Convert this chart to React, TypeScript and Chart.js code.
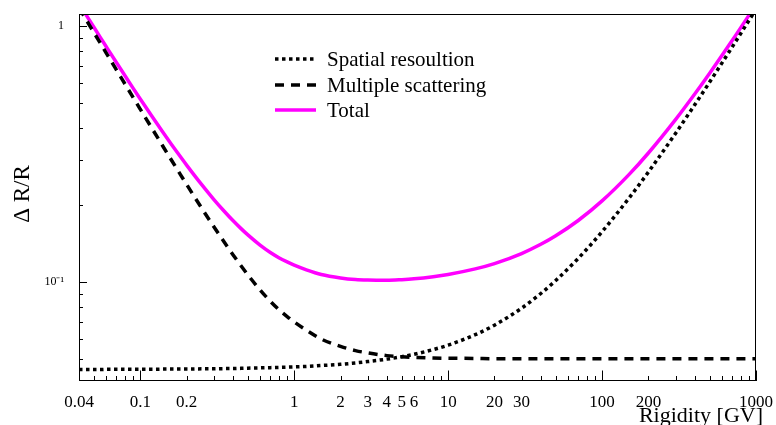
import React, { useEffect, useRef } from "react";
import { Chart, registerables } from "chart.js";
Chart.register(...registerables);

// Rigidity [GV]
const rigidity = [0.04, 0.042, 0.045, 0.05, 0.055, 0.06, 0.07, 0.08, 0.09, 0.1, 0.12, 0.14, 0.16, 0.18, 0.2, 0.25, 0.3, 0.35, 0.4, 0.45, 0.5, 0.6, 0.7, 0.8, 0.9, 1, 1.2, 1.5, 2, 2.5, 3, 4, 5, 6, 8, 10, 15, 20, 30, 40, 50, 70, 100, 150, 200, 300, 400, 500, 700, 1000];
// Spatial resolution term
const spatial = [0.0456, 0.0456, 0.0456, 0.0456, 0.0456, 0.0457, 0.0457, 0.0457, 0.0457, 0.0457, 0.0457, 0.0458, 0.0458, 0.0458, 0.0458, 0.0459, 0.0459, 0.046, 0.046, 0.0461, 0.0462, 0.0463, 0.0464, 0.0465, 0.0466, 0.0467, 0.0469, 0.0473, 0.0478, 0.0484, 0.049, 0.0501, 0.0512, 0.0523, 0.0546, 0.0568, 0.0624, 0.068, 0.0792, 0.0904, 0.1016, 0.124, 0.1576, 0.2136, 0.2696, 0.3816, 0.4936, 0.6056, 0.8296, 1.1656];
// Multiple scattering term
const multiple = [1.181, 1.125, 1.05, 0.945, 0.8594, 0.788, 0.676, 0.592, 0.5266, 0.4745, 0.3964, 0.3407, 0.2991, 0.2669, 0.2412, 0.1953, 0.1651, 0.1439, 0.1282, 0.1163, 0.1069, 0.0934, 0.0843, 0.078, 0.0735, 0.07, 0.065, 0.06, 0.0562, 0.0541, 0.053, 0.0517, 0.0512, 0.0509, 0.0506, 0.0505, 0.0504, 0.0503, 0.0503, 0.0503, 0.0503, 0.0503, 0.0503, 0.0503, 0.0503, 0.0503, 0.0503, 0.0503, 0.0503, 0.0503];
// Total
const total = [1.227, 1.171, 1.096, 0.991, 0.905, 0.834, 0.722, 0.638, 0.572, 0.52, 0.442, 0.3865, 0.3449, 0.3127, 0.287, 0.2412, 0.211, 0.1899, 0.1742, 0.1624, 0.1531, 0.1397, 0.1307, 0.1245, 0.1201, 0.1167, 0.1119, 0.1073, 0.104, 0.1025, 0.102, 0.1018, 0.1024, 0.1032, 0.1052, 0.1073, 0.1128, 0.1183, 0.1295, 0.1407, 0.1519, 0.1743, 0.2079, 0.2639, 0.3199, 0.4319, 0.5439, 0.6559, 0.8799, 1.2159];

const seriesLabels = ["Spatial resoultion", "Multiple scattering", "Total"];

const xLabelValues = [0.04, 0.1, 0.2, 1, 2, 3, 4, 5, 6, 10, 20, 30, 100, 200, 1000];
const xLabelTexts = ["0.04", "0.1", "0.2", "1", "2", "3", "4", "5", "6", "10", "20", "30", "100", "200", "1000"];
const yLabelValues = [0.1, 1];
const yLabelTexts = ["10\u207B\u00B9", "1"];

const X_MIN = 0.04;
const X_MAX = 1000;
const Y_MIN = 0.04115;
const Y_MAX = 1.117;

const SERIF = "'Liberation Serif', 'Times New Roman', serif";

function decadeTicks(min: number, max: number): number[] {
  const out: number[] = [];
  for (let e = Math.floor(Math.log10(min)); e <= Math.ceil(Math.log10(max)); e++) {
    for (let m = 1; m <= 9; m++) {
      const v = parseFloat((m * Math.pow(10, e)).toPrecision(6));
      if (v >= min * 0.9999 && v <= max * 1.0001) out.push(v);
    }
  }
  return out;
}

const isDecade = (v: number) => Math.abs(Math.log10(v) - Math.round(Math.log10(v))) < 1e-9;

const framePlugin = {
  id: "rootFrame",
  afterDatasetsDraw(chart: any) {
    const { ctx, chartArea: a, scales } = chart;
    const xs = scales.x;
    const ys = scales.y;
    ctx.save();
    ctx.setLineDash([]);
    ctx.strokeStyle = "#000";
    ctx.lineWidth = 1;
    ctx.strokeRect(a.left + 0.5, a.top + 0.5, a.right - a.left - 1, a.bottom - a.top - 1);

    // x ticks (inward)
    ctx.beginPath();
    for (const v of decadeTicks(X_MIN, X_MAX)) {
      const px = Math.round(xs.getPixelForValue(v)) + 0.5;
      const len = isDecade(v) ? 10.5 : 5;
      ctx.moveTo(px, a.bottom);
      ctx.lineTo(px, a.bottom - len);
    }
    // y ticks (inward)
    for (const v of decadeTicks(Y_MIN, Y_MAX)) {
      const py = Math.round(ys.getPixelForValue(v)) + 0.5;
      const len = isDecade(v) ? 8 : 4;
      ctx.moveTo(a.left, py);
      ctx.lineTo(a.left + len, py);
    }
    ctx.stroke();

    // legend
    const rows = [59, 85, 110];
    ctx.font = `21px ${SERIF}`;
    ctx.textBaseline = "middle";
    ctx.textAlign = "left";
    chart.data.datasets.forEach((ds: any, i: number) => {
      const y = rows[i];
      ctx.save();
      ctx.strokeStyle = ds.borderColor;
      ctx.lineWidth = ds.borderWidth;
      ctx.setLineDash(ds.borderDash || []);
      ctx.beginPath();
      ctx.moveTo(275, y);
      ctx.lineTo(316, y);
      ctx.stroke();
      ctx.restore();
      ctx.fillStyle = "#000";
      ctx.fillText(ds.label, 327, y + 1);
    });

    // axis titles
    ctx.fillStyle = "#000";
    ctx.font = `22px ${SERIF}`;
    ctx.textAlign = "right";
    ctx.textBaseline = "middle";
    ctx.fillText("Rigidity [GV]", 763, 416);

    ctx.save();
    ctx.translate(29, 194);
    ctx.rotate(-Math.PI / 2);
    ctx.font = `23px ${SERIF}`;
    ctx.textAlign = "center";
    ctx.textBaseline = "alphabetic";
    ctx.fillText("\u0394 R/R", 0, 0);
    ctx.restore();

    ctx.restore();
  },
};

export default function App() {
  const ref = useRef<HTMLCanvasElement | null>(null);

  useEffect(() => {
    if (!ref.current) return;
    const mk = (vals: number[]) => rigidity.map((r, i) => ({ x: r, y: vals[i] }));
    const chart = new Chart(ref.current, {
      type: "line",
      data: {
        datasets: [
          {
            label: seriesLabels[0],
            data: mk(spatial),
            borderColor: "#000000",
            borderWidth: 3.5,
            borderDash: [3.5, 3.5],
            pointRadius: 0,
            cubicInterpolationMode: "monotone",
            clip: 0,
          },
          {
            label: seriesLabels[1],
            data: mk(multiple),
            borderColor: "#000000",
            borderWidth: 3.5,
            borderDash: [9, 7],
            pointRadius: 0,
            cubicInterpolationMode: "monotone",
            clip: 0,
          },
          {
            label: seriesLabels[2],
            data: mk(total),
            borderColor: "#ff00ff",
            borderWidth: 3.5,
            pointRadius: 0,
            cubicInterpolationMode: "monotone",
            clip: 0,
          },
        ],
      },
      options: {
        animation: false,
        responsive: false,
        events: [],
        layout: { padding: { left: 0, right: 20, top: 14, bottom: 0 } },
        plugins: { legend: { display: false }, tooltip: { enabled: false }, title: { display: false } },
        scales: {
          x: {
            type: "logarithmic",
            position: "bottom",
            min: X_MIN,
            max: X_MAX,
            border: { display: false },
            grid: { display: false, drawTicks: false, tickLength: 0 },
            afterBuildTicks: (s: any) => {
              s.ticks = xLabelValues.map((v) => ({ value: v }));
            },
            afterFit: (s: any) => {
              s.height = 44;
              s.paddingLeft = 0;
              s.paddingRight = 0;
              s.paddingTop = 0;
              s.paddingBottom = 0;
            },
            ticks: {
              autoSkip: false,
              maxRotation: 0,
              minRotation: 0,
              padding: 11,
              color: "#000",
              font: { family: SERIF, size: 17 },
              callback: (v: any) => {
                const i = xLabelValues.findIndex((t) => Math.abs(t - Number(v)) / t < 1e-6);
                return i >= 0 ? xLabelTexts[i] : "";
              },
            },
          },
          y: {
            type: "logarithmic",
            position: "left",
            min: Y_MIN,
            max: Y_MAX,
            border: { display: false },
            grid: { display: false, drawTicks: false, tickLength: 0 },
            afterBuildTicks: (s: any) => {
              s.ticks = yLabelValues.map((v) => ({ value: v }));
            },
            afterFit: (s: any) => {
              s.width = 79;
              s.paddingLeft = 0;
              s.paddingRight = 0;
              s.paddingTop = 0;
              s.paddingBottom = 0;
            },
            ticks: {
              autoSkip: false,
              padding: 15,
              color: "#000",
              font: { family: SERIF, size: 12 },
              callback: (v: any) => {
                const i = yLabelValues.findIndex((t) => Math.abs(t - Number(v)) / t < 1e-6);
                return i >= 0 ? yLabelTexts[i] : "";
              },
            },
          },
        },
      },
      plugins: [framePlugin],
    });
    return () => chart.destroy();
  }, []);

  return (
    <div style={{ position: "fixed", left: 0, top: 0, width: 776, height: 425, background: "#fff" }}>
      <canvas ref={ref} width={776} height={425} style={{ display: "block", width: 776, height: 425 }} />
    </div>
  );
}
